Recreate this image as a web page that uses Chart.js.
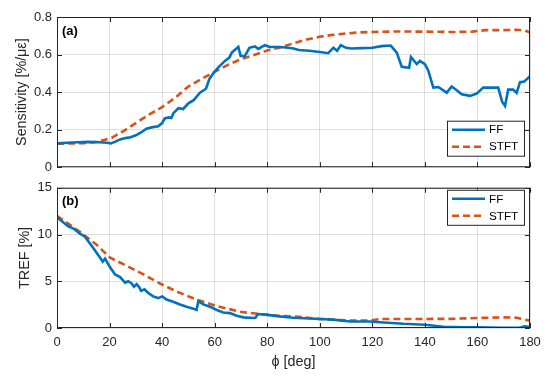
<!DOCTYPE html>
<html>
<head>
<meta charset="utf-8">
<script src="https://cdn.jsdelivr.net/npm/chart.js@4.4.1/dist/chart.umd.min.js"></script>
<style>
  body { margin: 0; background: #fff; width: 550px; height: 379px; position: relative; overflow: hidden; }
  canvas { position: absolute; left: 0; }
  #top { top: 0; }
  #bottom { top: 175px; }
</style>
</head>
<body>
<canvas id="top" width="550" height="180"></canvas>
<canvas id="bottom" width="550" height="204"></canvas>
<script>
// (a) sensitivity [%/ue] vs phi [deg]
const ffSensPhi = [0, 4, 8, 12, 16, 19, 20.5, 22, 24, 26, 28, 30, 32, 34, 36, 38.5, 40, 41, 42.5, 43.5, 44.3, 46.2, 48, 50, 52, 54.4, 56.7, 58, 59.5, 61.4, 63.9, 65.6, 66.5, 69, 69.9, 71.5, 73.2, 75.3, 76.6, 79.1, 81, 85, 88, 90, 92, 96, 100, 103.2, 105.2, 106.6, 108, 110, 112, 116, 120, 123.5, 127, 129.3, 131.2, 134, 134.7, 136.9, 138.1, 140, 141.3, 143.2, 145.1, 148.3, 150.2, 152.1, 154, 157.2, 159.7, 162.2, 165.4, 167.9, 169.4, 170.5, 171.7, 173.6, 174.9, 176.2, 177.8, 180];
const ffSens = [0.127, 0.13, 0.133, 0.135, 0.133, 0.13, 0.127, 0.135, 0.148, 0.155, 0.16, 0.17, 0.185, 0.205, 0.212, 0.218, 0.235, 0.26, 0.265, 0.262, 0.288, 0.314, 0.31, 0.34, 0.357, 0.397, 0.418, 0.47, 0.5, 0.532, 0.566, 0.584, 0.61, 0.641, 0.592, 0.592, 0.636, 0.643, 0.63, 0.65, 0.64, 0.64, 0.636, 0.632, 0.624, 0.62, 0.614, 0.607, 0.636, 0.62, 0.65, 0.636, 0.632, 0.634, 0.636, 0.645, 0.648, 0.61, 0.535, 0.53, 0.587, 0.549, 0.566, 0.549, 0.514, 0.424, 0.427, 0.397, 0.43, 0.41, 0.389, 0.38, 0.392, 0.424, 0.424, 0.424, 0.349, 0.326, 0.413, 0.413, 0.396, 0.453, 0.456, 0.485];
const stftSensPhi = [0, 10, 15, 18, 21, 25, 30, 35, 40, 45, 50, 55, 60, 65, 70, 75, 80, 85, 90, 95, 100, 105, 110, 115, 120, 130, 140, 150, 158, 163, 170, 175, 178, 180];
const stftSens = [0.125, 0.128, 0.135, 0.145, 0.158, 0.19, 0.235, 0.28, 0.32, 0.37, 0.43, 0.47, 0.508, 0.545, 0.575, 0.598, 0.622, 0.638, 0.66, 0.68, 0.695, 0.705, 0.712, 0.718, 0.72, 0.723, 0.722, 0.72, 0.722, 0.73, 0.73, 0.732, 0.728, 0.718];

// (b) TREF [%] vs phi [deg]
const ffTrefPhi = [0, 2, 4.3, 6.5, 8.75, 10.65, 13.8, 16.4, 17.4, 18.3, 20.2, 22.1, 24, 25.9, 27.1, 28.4, 29.3, 30.3, 31.3, 32, 33.3, 34.5, 36.6, 38.5, 40, 41.7, 44.2, 46.8, 49.3, 51.9, 53.1, 53.8, 55.7, 58.2, 60.8, 63.3, 65.8, 68.4, 70.9, 74.7, 75.5, 76.5, 80, 84.6, 90, 100, 105, 111.5, 119, 122.9, 131.8, 140, 147, 155, 160, 170, 176, 178, 180];
const ffTref = [11.83, 11.4, 10.86, 10.6, 10.1, 9.76, 8.55, 7.52, 7.1, 7.42, 6.49, 5.73, 5.45, 4.86, 5.0, 4.76, 4.42, 4.69, 4.35, 3.97, 4.14, 3.8, 3.38, 3.2, 3.38, 3.04, 2.8, 2.52, 2.28, 2.07, 1.93, 2.87, 2.52, 2.28, 1.93, 1.66, 1.59, 1.31, 1.14, 1.07, 1.1, 1.49, 1.4, 1.24, 1.1, 0.97, 0.9, 0.69, 0.69, 0.62, 0.45, 0.35, 0.14, 0.07, 0.07, 0.03, 0.03, 0.17, 0.1];
const stftTrefPhi = [0, 8.75, 15.1, 20.2, 26.5, 32.9, 39.2, 45.6, 53.1, 60.8, 69.7, 77.3, 84.6, 92, 100, 111.5, 119, 123, 131.8, 140, 150, 159.7, 165, 170, 175, 178, 180];
const stftTref = [12.0, 10.28, 8.9, 7.52, 6.66, 5.73, 4.76, 3.9, 3.04, 2.35, 1.73, 1.49, 1.31, 1.2, 0.97, 0.79, 0.79, 0.97, 0.97, 0.97, 0.98, 1.07, 1.1, 1.14, 1.1, 0.9, 0.79];

const xTicks = [0, 20, 40, 60, 80, 100, 120, 140, 160, 180];
const seriesNames = ['FF', 'STFT'];

const FONT = '"Liberation Sans", Arial, sans-serif';
const AXIS = '#262626';
const GRID = 'rgba(38,38,38,0.15)';
const BLUE = '#0072BD';
const ORANGE = '#D95319';

const pts = (xs, ys) => xs.map((x, i) => ({ x: x, y: ys[i] }));

// box, inward ticks, panel tag and boxed legend (matlab style)
const boxPlugin = {
  id: 'box',
  afterDraw(chart, args, opts) {
    const { ctx, chartArea: a, scales } = chart;
    ctx.save();
    ctx.strokeStyle = AXIS;
    ctx.lineWidth = 1;
    ctx.strokeRect(a.left + 0.5, a.top + 0.5, a.right - a.left - 1, a.bottom - a.top - 1);
    ctx.beginPath();
    scales.x.ticks.forEach(t => {
      const x = Math.round(scales.x.getPixelForValue(t.value)) + 0.5;
      ctx.moveTo(x, a.bottom); ctx.lineTo(x, a.bottom - 5);
      ctx.moveTo(x, a.top); ctx.lineTo(x, a.top + 5);
    });
    scales.y.ticks.forEach(t => {
      const y = Math.round(scales.y.getPixelForValue(t.value)) + 0.5;
      ctx.moveTo(a.left, y); ctx.lineTo(a.left + 5, y);
      ctx.moveTo(a.right, y); ctx.lineTo(a.right - 5, y);
    });
    ctx.stroke();

    ctx.fillStyle = '#000';
    ctx.font = 'bold 13px ' + FONT;
    ctx.textBaseline = 'middle';
    ctx.textAlign = 'left';
    ctx.fillText(opts.tag, a.left + 5, a.top + 14);

    // legend
    const w = 77, h = 35;
    const lx = a.right - 6 - w;
    const ly = opts.legendAt === 'top' ? a.top + 2 : a.bottom - 11.5 - h;
    ctx.fillStyle = '#fff';
    ctx.fillRect(lx, ly, w, h);
    ctx.strokeStyle = AXIS;
    ctx.lineWidth = 1;
    ctx.strokeRect(lx + 0.5, ly + 0.5, w, h);
    chart.data.datasets.forEach((ds, i) => {
      const y = ly + 9 + i * 17;
      ctx.beginPath();
      ctx.strokeStyle = ds.borderColor;
      ctx.lineWidth = ds.borderWidth;
      ctx.setLineDash(ds.borderDash || []);
      ctx.moveTo(lx + 5, y);
      ctx.lineTo(lx + 38, y);
      ctx.stroke();
      ctx.setLineDash([]);
      ctx.fillStyle = '#000';
      ctx.font = '11.7px ' + FONT;
      ctx.fillText(ds.label, lx + 42, y + 0.5);
    });
    ctx.restore();
  }
};

function makeChart(id, cfg) {
  return new Chart(document.getElementById(id), {
    type: 'line',
    data: {
      datasets: [
        { label: seriesNames[0], data: cfg.ff, borderColor: BLUE, borderWidth: 2.6, pointRadius: 0, tension: 0 },
        { label: seriesNames[1], data: cfg.stft, borderColor: ORANGE, borderWidth: 2.6, borderDash: [7, 4], pointRadius: 0, tension: 0 }
      ]
    },
    options: {
      responsive: false,
      animation: false,
      layout: { padding: { top: cfg.padTop, right: 20, left: 0, bottom: 0 } },
      plugins: {
        legend: { display: false },
        tooltip: { enabled: false },
        box: { tag: cfg.tag, legendAt: cfg.legendAt }
      },
      scales: {
        x: {
          type: 'linear', min: 0, max: 180,
          afterBuildTicks: s => { s.ticks = xTicks.map(v => ({ value: v })); },
          afterFit: s => { s.height = cfg.xHeight; },
          grid: { color: GRID, drawTicks: false },
          border: { display: false },
          ticks: { display: cfg.showX, color: AXIS, padding: 7, font: { family: FONT, size: 13 } },
          title: { display: cfg.showX, text: 'ϕ [deg]', color: AXIS, padding: { top: 0, bottom: 8 }, font: { family: FONT, size: 14.3 } }
        },
        y: {
          min: 0, max: cfg.yMax,
          afterBuildTicks: s => { s.ticks = cfg.yTicks.map(v => ({ value: v })); },
          afterFit: s => { s.width = 57; },
          grid: { color: GRID, drawTicks: false },
          border: { display: false },
          ticks: { color: AXIS, padding: 5, font: { family: FONT, size: 13 } },
          title: { display: true, text: cfg.yTitle, color: AXIS, padding: { top: cfg.yTitlePad, bottom: 0 }, font: { family: FONT, size: 14.3 } }
        }
      }
    },
    plugins: [boxPlugin]
  });
}

makeChart('top', {
  ff: pts(ffSensPhi, ffSens),
  stft: pts(stftSensPhi, stftSens),
  tag: '(a)', legendAt: 'bottom',
  padTop: 17, xHeight: 10, showX: false,
  yMax: 0.8, yTicks: [0, 0.2, 0.4, 0.6, 0.8],
  yTitle: 'Sensitivity [%/με]', yTitlePad: 13
});

makeChart('bottom', {
  ff: pts(ffTrefPhi, ffTref),
  stft: pts(stftTrefPhi, stftTref),
  tag: '(b)', legendAt: 'top',
  padTop: 8, xHeight: 51, showX: true,
  yMax: 15, yTicks: [0, 5, 10, 15],
  yTitle: 'TREF [%]', yTitlePad: 16
});
</script>
</body>
</html>
